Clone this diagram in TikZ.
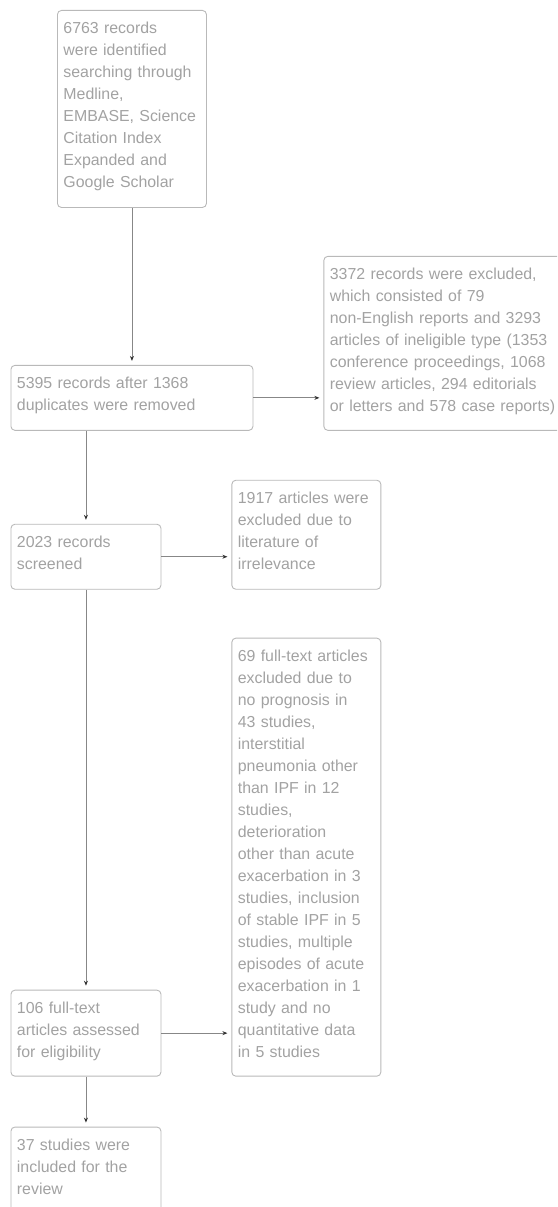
\documentclass[tikz,border=0pt]{standalone}
\usepackage{fontspec}
\setmainfont{Liberation Sans}
\usetikzlibrary{arrows.meta,positioning}
\definecolor{txtgray}{RGB}{162,162,162}
\definecolor{boxline}{RGB}{185,185,185}
\definecolor{linegray}{RGB}{135,135,135}
\definecolor{tipcol}{RGB}{50,50,50}

\begin{document}
\begin{tikzpicture}[
   x=1pt,y=1pt,
   box/.style 2 args={draw=boxline,rounded corners=4pt,line width=0.9pt,
               inner xsep=6pt,inner ysep=7.5pt,align=left,text=txtgray,
               font=\fontsize{15.9}{22}\selectfont,
               text width=#1,text height=15.5pt,text depth=#2},
   arr/.style={-{Stealth[length=5pt,width=4pt,color=tipcol]},draw=linegray,
               line width=0.8pt,shorten >=4pt}]
  \useasboundingbox (0,0) rectangle (557,-1207);
  \clip (0,0) rectangle (557,-1207);

  \node[box={137pt}{166.5pt},anchor=north west] (ident) at (57,-10)
        {6763 records\\were identified\\searching through\\Medline,\\EMBASE,~Science\\Citation Index\\Expanded and\\Google Scholar};
  \node[box={230pt}{34.5pt},below=157pt of ident] (dedup)
        {5395 records after 1368\\duplicates were removed};
  \node[box={248pt}{143.5pt},right=70pt of dedup.south east,anchor=south west] (excl1)
        {3372 records were excluded,\\which consisted of 79\\non-English reports and 3293\\articles of ineligible type (1353\\conference proceedings, 1068\\review articles, 294 editorials\\or letters and 578 case reports)};
  \node[box={138pt}{34.5pt},below=93pt of dedup.south west,anchor=north west] (screen)
        {2023 records\\screened};
  \node[box={137pt}{78.5pt},right=70pt of screen.south east,anchor=south west] (excl2)
        {1917 articles were\\excluded due to\\literature of\\irrelevance};
  \node[box={137pt}{407.5pt},below=48pt of excl2] (excl3)
        {69 full-text articles\\excluded due to\\no prognosis in\\43 studies,\\interstitial\\pneumonia other\\than IPF in 12\\studies,\\deterioration\\other than acute\\exacerbation in 3\\studies, inclusion\\of stable IPF in 5\\studies, multiple\\episodes of acute\\exacerbation in 1\\study and no\\quantitative data\\in 5 studies};
  \node[box={138pt}{55.5pt},left=70pt of excl3.south west,anchor=south east] (elig)
        {106 full-text\\articles assessed\\for eligibility};
  \node[box={138pt}{99.5pt},below=50pt of elig] (incl)
        {37 studies were\\included for the\\review};

  \draw[arr] (ident) -- (dedup);
  \draw[arr] (dedup) -- (dedup -| excl1.west);
  \draw[arr] (dedup.south -| screen) -- (screen);
  \draw[arr] (screen) -- (screen -| excl2.west);
  \draw[arr] (screen) -- (elig);
  \draw[arr] (elig) -- (elig -| excl3.west);
  \draw[arr] (elig) -- (incl);
\end{tikzpicture}
\end{document}
